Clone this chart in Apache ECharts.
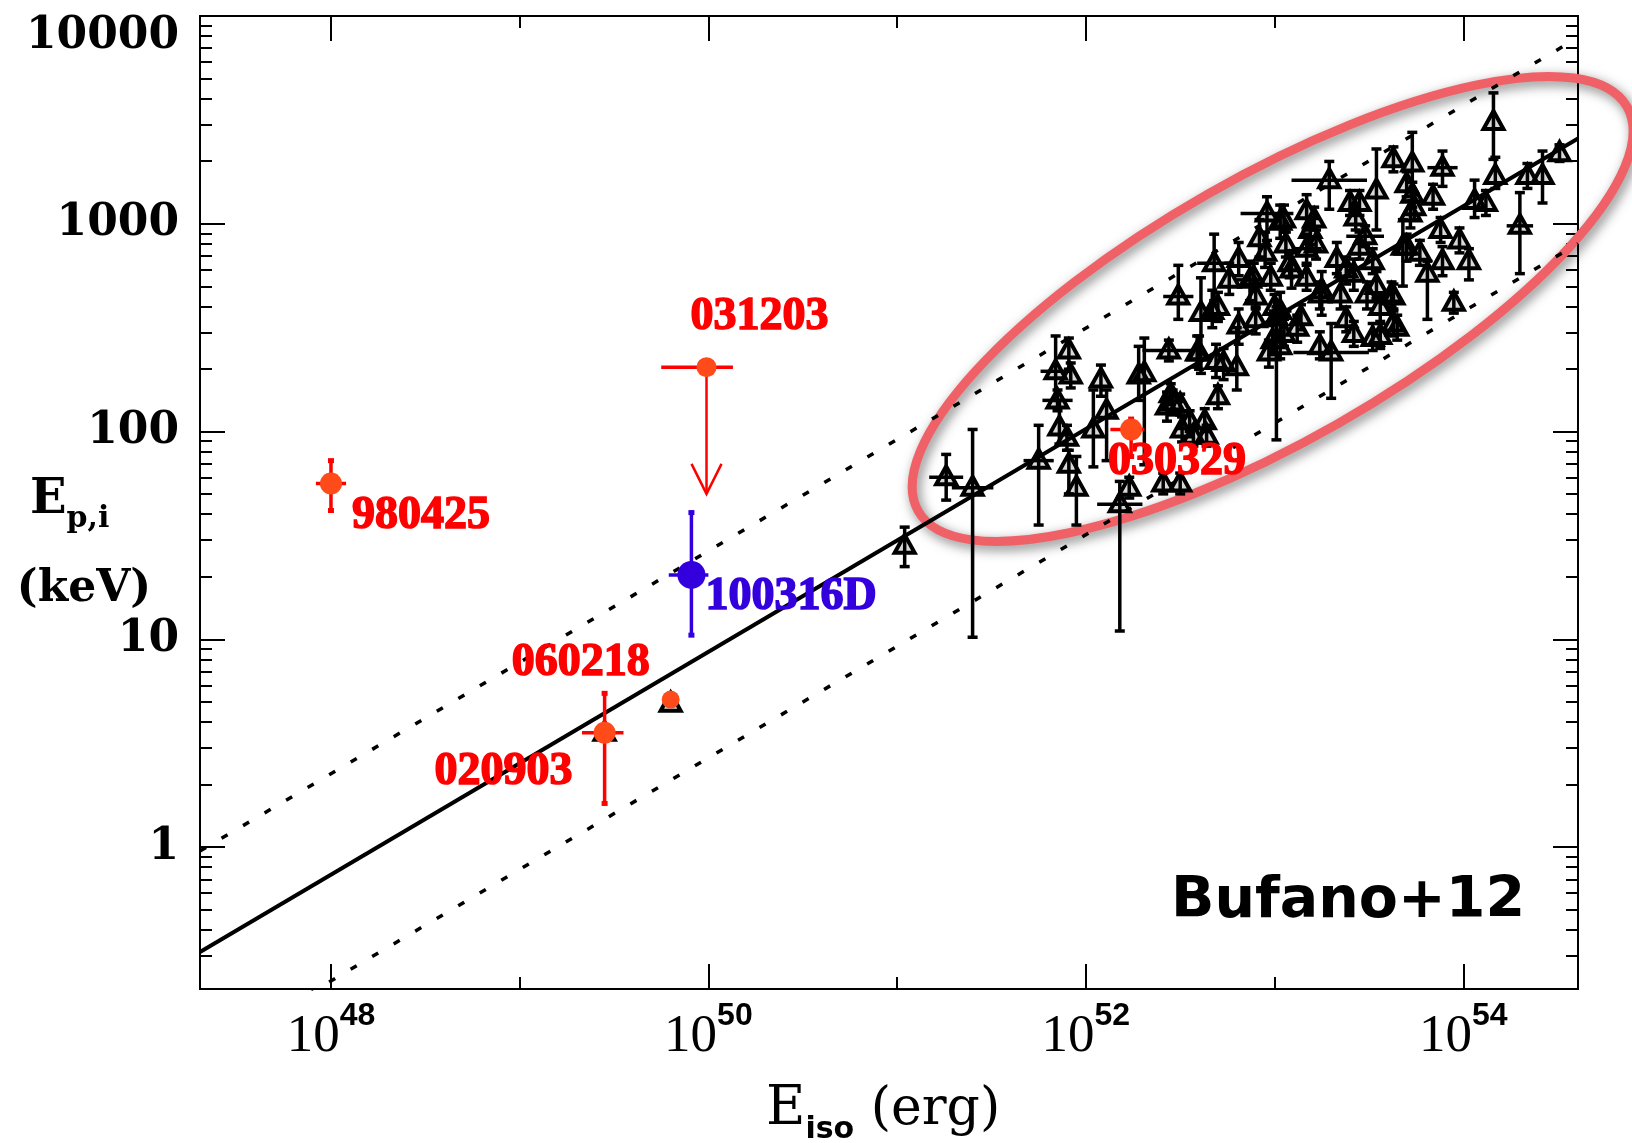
<!DOCTYPE html>
<html>
<head>
<meta charset="utf-8">
<script src="https://cdn.jsdelivr.net/npm/echarts@6/dist/echarts.min.js"></script>
<style>
  html, body { margin: 0; padding: 0; background: #fff; }
  #main { width: 1632px; height: 1143px; }
</style>
</head>
<body>
<div id="main"></div>
<script>
// all values are log10: Eiso in erg, Ep,i in keV

// black sample (triangles)
const grbLogE = [
  51.04, 51.26, 51.40, 51.75, 51.84, 51.85, 51.86, 51.91, 51.92, 51.90, 51.91, 51.95, 52.04,
  52.08, 52.11, 52.18, 52.23, 52.28, 52.31, 52.43, 52.46, 52.51, 52.57, 52.64, 52.41, 52.50,
  52.44, 52.49, 52.45, 52.50, 52.55, 52.63, 52.61, 52.60, 52.68, 52.70, 52.69, 52.76, 52.80,
  52.70, 52.89, 52.90, 52.90, 52.96, 52.98, 53.00, 52.99, 52.97, 53.01, 53.05, 53.06, 53.08,
  53.05, 53.03, 53.17, 53.19, 53.21, 53.22, 53.17, 53.24, 53.14, 53.12, 53.24, 53.30, 53.29,
  53.40, 53.45, 53.43, 53.38, 53.45, 53.52, 53.49, 53.35, 53.38, 53.42, 53.54, 53.54, 53.56,
  53.52, 53.63, 53.70, 53.72, 53.63, 53.65, 53.70,
  54.16, 54.17, 53.73, 53.89, 53.73, 53.74, 53.84, 54.06, 54.12, 54.34, 54.42, 54.51, 54.30,
  53.68, 53.77, 53.88, 53.89, 53.98, 54.03, 53.81, 53.62, 53.63, 53.95, 53.56,
  49.80, 49.45, 53.48,
  52.81, 52.87, 52.95, 53.09, 53.17, 53.25, 53.33, 53.42, 53.03, 52.81, 52.67, 52.59, 52.73,
  52.92, 53.03
];
const grbLogEp = [
  1.45, 1.78, 1.73, 1.86, 2.29, 2.15, 2.02, 2.39, 2.27, 1.97, 1.84, 1.73, 2.01,
  2.25, 2.10, 1.65, 1.73, 2.27, 2.28, 2.12, 2.14, 2.01, 1.98, 1.98, 1.75, 1.75,
  2.39, 2.65, 2.18, 2.13, 2.05, 2.05, 2.57, 2.38, 2.81, 2.60, 2.34, 2.73, 2.31,
  2.17, 2.74, 2.65, 2.54, 3.05, 2.74, 2.60, 2.44, 2.38, 2.55, 3.02, 2.90, 2.81,
  2.47, 2.41, 3.06, 2.97, 3.02, 2.90, 2.74, 2.66, 2.55, 2.50, 2.41, 2.38, 3.21,
  3.10, 3.10, 3.03, 2.78, 2.89, 2.82, 2.66, 2.66, 2.54, 2.47, 3.16, 2.70, 2.60,
  2.45, 3.31, 3.19, 3.05, 2.65, 2.50, 2.89,
  3.49, 3.23, 3.29, 3.27, 3.14, 3.08, 3.13, 3.11, 3.10, 3.23, 3.23, 3.34, 2.99,
  2.89, 2.86, 2.97, 2.82, 2.92, 2.82, 2.76, 2.66, 2.52, 2.62, 2.46,
  0.69, 0.55, 2.94,
  2.83, 2.73, 2.86, 2.78, 2.88, 2.68, 2.83, 2.76, 2.58, 2.51, 2.58, 2.38, 2.33,
  2.93, 3.01
];
// half width of the Eiso error bar (dex)
const grbErrE = [
  0, 0.09, 0.11, 0.08, 0.08, 0.08, 0, 0, 0, 0, 0, 0, 0,
  0, 0, 0.12, 0, 0, 0, 0, 0, 0, 0, 0, 0, 0,
  0.14, 0.08, 0, 0, 0, 0, 0, 0, 0.09, 0, 0, 0, 0,
  0, 0, 0, 0, 0.14, 0, 0, 0, 0, 0, 0, 0, 0,
  0, 0, 0, 0, 0, 0, 0, 0, 0, 0, 0, 0.20, 0.20,
  0, 0, 0, 0, 0, 0, 0, 0, 0, 0, 0, 0, 0,
  0, 0, 0, 0, 0, 0, 0,
  0, 0, 0, 0.08, 0, 0, 0, 0, 0, 0, 0, 0, 0.07,
  0, 0, 0, 0, 0, 0, 0, 0, 0, 0, 0,
  0, 0, 0.10,
  0, 0.07, 0, 0, 0.08, 0, 0, 0, 0.06, 0, 0, 0, 0,
  0, 0
];
// lower / upper length of the Ep,i error bar (dex)
const grbErrEpLo = [
  0.10, 0.11, 0.72, 0.31, 0.14, 0.05, 0.08, 0.09, 0.06, 0.06, 0.14, 0.18, 0.18,
  0.08, 0.24, 0.61, 0.05, 0.12, 0.44, 0.07, 0.06, 0.06, 0.05, 0.05, 0.05, 0.05,
  0.05, 0.11, 0.05, 0.05, 0.05, 0.05, 0.29, 0.08, 0.18, 0.07, 0.08, 0.07, 0.11,
  0.06, 0.06, 0.06, 0.07, 0.13, 0.06, 0.07, 0.07, 0.07, 0.59, 0.06, 0.06, 0.07,
  0.06, 0.06, 0.09, 0.07, 0.05, 0.07, 0.06, 0.07, 0.06, 0.07, 0.06, 0.22, 0.14,
  0.06, 0.06, 0.06, 0.07, 0.06, 0.06, 0.07, 0.07, 0.06, 0.06, 0.19, 0.06, 0.07,
  0.06, 0.06, 0.06, 0.07, 0.06, 0.06, 0.07,
  0.18, 0.06, 0.18, 0.09, 0.06, 0.06, 0.06, 0.08, 0.06, 0.06, 0.13, 0.04, 0.23,
  0.19, 0.06, 0.06, 0.07, 0.06, 0.09, 0.22, 0.06, 0.06, 0.05, 0.06,
  0, 0, 0.05,
  0.08, 0.10, 0.07, 0.09, 0.08, 0.12, 0.07, 0.08, 0.10, 0.09, 0.08, 0.07, 0.08,
  0.09, 0.08
];
const grbErrEpHi = [
  0.09, 0.11, 0.28, 0.17, 0.17, 0.05, 0.13, 0.06, 0.06, 0.06, 0.07, 0.15, 0.19,
  0.07, 0.10, 0.11, 0.05, 0.14, 0.17, 0.07, 0.06, 0.06, 0.05, 0.05, 0.05, 0.05,
  0.05, 0.15, 0.05, 0.05, 0.05, 0.06, 0.17, 0.08, 0.14, 0.07, 0.08, 0.08, 0.19,
  0.05, 0.07, 0.06, 0.06, 0.08, 0.07, 0.06, 0.07, 0.06, 0.05, 0.07, 0.06, 0.06,
  0.07, 0.06, 0.08, 0.06, 0.06, 0.07, 0.07, 0.06, 0.06, 0.06, 0.07, 0.14, 0.09,
  0.06, 0.06, 0.06, 0.06, 0.07, 0.06, 0.06, 0.07, 0.06, 0.06, 0.20, 0.07, 0.06,
  0.07, 0.06, 0.06, 0.06, 0.06, 0.06, 0.06,
  0.14, 0.09, 0.15, 0.08, 0.06, 0.06, 0.06, 0.10, 0.06, 0.06, 0.12, 0.04, 0.16,
  0.13, 0.06, 0.06, 0.07, 0.06, 0.06, 0.06, 0.06, 0.06, 0.05, 0.06,
  0, 0, 0.05,
  0.08, 0.09, 0.10, 0.08, 0.07, 0.09, 0.08, 0.07, 0.09, 0.08, 0.10, 0.08, 0.07,
  0.09, 0.08
];

// highlighted bursts
const specNames   = ['980425', '031203', '100316D', '060218', '020903', '030329'];
const specLogE    = [48.00, 49.99, 49.91, 49.80, 49.45, 52.24];
const specLogEp   = [1.75, 2.31, 1.31, 0.71, 0.55, 2.01];
const specLogELo  = [47.92, 49.75, 49.79, 49.80, 49.33, 52.13];
const specLogEHi  = [48.08, 50.13, 50.00, 49.80, 49.55, 52.31];
const specLogEpLo = [1.62, 1.70, 1.02, 0.71, 0.21, 1.88];
const specLogEpHi = [1.86, 2.31, 1.61, 0.71, 0.74, 2.06];
const specUpperLimit = [false, true, false, false, false, false];

// Ep,i - Eiso correlation and its +-2 sigma band, at the axis ends
const fitLogE    = [47.306, 54.608];
const fitLogEp   = [-0.505, 3.41];
const upperLogEp = [-0.019, 3.896];
const lowerLogEp = [-1.017, 2.904];

// axes
const X_MIN = 47.306, X_MAX = 54.608;
const Y_MIN = -0.683, Y_MAX = 4;
const xMajorTicks = [48, 50, 52, 54];
const xMinorTicks = [49, 51, 53];
const yMajorTicks = [0, 1, 2, 3, 4];
const yTickLabels = ['1', '10', '100', '1000', '10000'];
const yMinorTicks = [];
for (let d = -1; d <= 3; d++) {
  for (let m = 2; m <= 9; m++) {
    const v = d + Math.log10(m);
    if (v > Y_MIN && v < Y_MAX) yMinorTicks.push(v);
  }
}

// label placement / look for the highlighted bursts
const specStyle = {
  '980425':  { color: '#ff0000', fill: '#ff4a1a', r: 11, dx: 21,  dy: 33,  align: 'left' },
  '031203':  { color: '#ff0000', fill: '#ff4a1a', r: 10, dx: 53,  dy: -50, align: 'center' },
  '100316D': { color: '#3300dd', fill: '#3300dd', r: 14, dx: 14,  dy: 22,  align: 'left' },
  '060218':  { color: '#ff0000', fill: '#ff4a1a', r: 9,  dx: -90, dy: -36, align: 'center' },
  '020903':  { color: '#ff0000', fill: '#ff4a1a', r: 11, dx: -101, dy: 39, align: 'center' },
  '030329':  { color: '#ff0000', fill: '#ff4a1a', r: 11, dx: 46,  dy: 33,  align: 'center' }
};

const chart = echarts.init(document.getElementById('main'));

const AXLINE = { color: '#000', width: 2 };
const MAJOR = 25, MINOR = 12;

function xAxisDef(position, ticks, len, labels) {
  return {
    type: 'value', position: position, min: X_MIN, max: X_MAX,
    axisLine: { show: true, onZero: false, lineStyle: AXLINE },
    axisTick: { show: true, inside: true, length: len, customValues: ticks, lineStyle: AXLINE },
    axisLabel: labels ? {
      show: true,
      customValues: xMajorTicks,
      margin: 20,
      formatter: v => '{b|10}{s|' + Math.round(v) + '}',
      rich: {
        b: { fontFamily: 'Liberation Serif', fontSize: 53, lineHeight: 56, color: '#000' },
        s: { fontFamily: 'Liberation Sans', fontWeight: 'bold', fontSize: 32, lineHeight: 34,
             padding: [0, 0, 42, 0], color: '#000' }
      }
    } : { show: false },
    splitLine: { show: false }
  };
}

function yAxisDef(position, ticks, len, labels) {
  return {
    type: 'value', position: position, min: Y_MIN, max: Y_MAX,
    axisLine: { show: true, onZero: false, lineStyle: AXLINE },
    axisTick: { show: true, inside: true, length: len, customValues: ticks, lineStyle: AXLINE },
    axisLabel: labels ? {
      show: true,
      customValues: yMajorTicks,
      margin: 21,
      fontFamily: 'DejaVu Serif', fontWeight: 'bold', fontSize: 44, color: '#000',
      formatter: v => {
        const lab = yTickLabels[yMajorTicks.indexOf(Math.round(v))];
        return Math.round(v) === Y_MAX ? '{top|' + lab + '}' : lab;
      },
      rich: {
        top: { fontFamily: 'DejaVu Serif', fontWeight: 'bold', fontSize: 44, color: '#000',
               padding: [41, 0, 0, 0] }
      }
    } : { show: false },
    splitLine: { show: false }
  };
}

const grbData = grbLogE.map((e, i) =>
  [e, grbLogEp[i], grbErrE[i], grbErrEpLo[i], grbErrEpHi[i]]);

const specData = specLogE.map((e, i) =>
  [e, specLogEp[i], specLogELo[i], specLogEHi[i], specLogEpLo[i], specLogEpHi[i]]);

function renderGrb(params, api) {
  const x = api.value(0), y = api.value(1);
  const c = api.coord([x, y]);
  const lo = api.coord([x, y - api.value(3)]);
  const hi = api.coord([x, y + api.value(4)]);
  const st = { stroke: '#000', lineWidth: 3.5 };
  const kids = [];
  if (api.value(3) > 0 || api.value(4) > 0) {
    kids.push({ type: 'line', shape: { x1: c[0], y1: lo[1], x2: c[0], y2: hi[1] }, style: st });
    kids.push({ type: 'line', shape: { x1: c[0] - 5, y1: lo[1], x2: c[0] + 5, y2: lo[1] }, style: st });
    kids.push({ type: 'line', shape: { x1: c[0] - 5, y1: hi[1], x2: c[0] + 5, y2: hi[1] }, style: st });
  }
  if (api.value(2) > 0) {
    const l = api.coord([x - api.value(2), y]);
    const r = api.coord([x + api.value(2), y]);
    kids.push({ type: 'line', shape: { x1: l[0], y1: c[1], x2: r[0], y2: c[1] }, style: st });
  }
  kids.push({
    type: 'polygon',
    shape: { points: [[c[0], c[1] - 11], [c[0] - 10, c[1] + 7], [c[0] + 10, c[1] + 7]] },
    style: { fill: 'rgba(0,0,0,0.15)', stroke: '#000', lineWidth: 4, lineJoin: 'miter' }
  });
  return { type: 'group', children: kids };
}

function renderSpec(params, api) {
  const i = params.dataIndex;
  const name = specNames[i];
  const s = specStyle[name];
  const x = api.value(0), y = api.value(1);
  const c = api.coord([x, y]);
  const el = api.coord([api.value(2), y]);
  const eh = api.coord([api.value(3), y]);
  const yl = api.coord([x, api.value(4)]);
  const yh = api.coord([x, api.value(5)]);
  const st = { stroke: s.color, lineWidth: 3.5 };
  const kids = [];
  if (eh[0] - el[0] > 1) {
    kids.push({ type: 'line', shape: { x1: el[0], y1: c[1], x2: eh[0], y2: c[1] }, style: st });
  }
  if (specUpperLimit[i]) {
    kids.push({ type: 'line', shape: { x1: c[0], y1: c[1], x2: c[0], y2: yl[1] }, style: { stroke: s.color, lineWidth: 2.5 } });
    kids.push({ type: 'polyline',
      shape: { points: [[c[0] - 15, yl[1] - 30], [c[0], yl[1]], [c[0] + 15, yl[1] - 30]] },
      style: { stroke: s.color, lineWidth: 2.5, fill: 'none' } });
  } else if (yl[1] - yh[1] > 1) {
    kids.push({ type: 'line', shape: { x1: c[0], y1: yl[1], x2: c[0], y2: yh[1] }, style: st });
    kids.push({ type: 'line', shape: { x1: c[0] - 3, y1: yl[1], x2: c[0] + 3, y2: yl[1] }, style: { stroke: s.color, lineWidth: 5 } });
    kids.push({ type: 'line', shape: { x1: c[0] - 3, y1: yh[1], x2: c[0] + 3, y2: yh[1] }, style: { stroke: s.color, lineWidth: 5 } });
  }
  kids.push({ type: 'circle', shape: { cx: c[0], cy: c[1], r: s.r }, style: { fill: s.fill }, z2: 1 });
  kids.push({
    type: 'text', x: c[0] + s.dx, y: c[1] + s.dy, z2: 2,
    style: { text: name, fill: s.color, stroke: s.color, lineWidth: 1.6,
             align: s.align, verticalAlign: 'middle',
             font: 'bold 46px "Liberation Serif"' }
  });
  return { type: 'group', children: kids };
}

function fitLine(ys, dotted) {
  return {
    type: 'line', xAxisIndex: 0, yAxisIndex: 0, silent: true, z: 2,
    data: fitLogE.map((e, i) => [e, ys[i]]),
    showSymbol: false, symbol: 'none', animation: false,
    lineStyle: { color: '#000', width: dotted ? 3.5 : 4, type: dotted ? [7, 18] : 'solid', cap: 'butt' }
  };
}

chart.setOption({
  animation: false,
  backgroundColor: '#fff',
  grid: { left: 200, right: 54, top: 16, bottom: 154, containLabel: false },
  xAxis: [
    xAxisDef('bottom', xMajorTicks, MAJOR, true),
    xAxisDef('bottom', xMinorTicks, MINOR, false),
    xAxisDef('top', xMajorTicks, MAJOR, false),
    xAxisDef('top', xMinorTicks, MINOR, false)
  ],
  yAxis: [
    yAxisDef('left', yMajorTicks, MAJOR, true),
    yAxisDef('left', yMinorTicks, MINOR, false),
    yAxisDef('right', yMajorTicks, MAJOR, false),
    yAxisDef('right', yMinorTicks, MINOR, false)
  ],
  series: [
    fitLine(fitLogEp, false),
    fitLine(upperLogEp, true),
    fitLine(lowerLogEp, true),
    {
      type: 'custom', name: 'sample', xAxisIndex: 0, yAxisIndex: 0, z: 3,
      renderItem: renderGrb, data: grbData, encode: { x: 0, y: 1 }, clip: true, silent: true
    },
    {
      type: 'custom', name: 'special', xAxisIndex: 0, yAxisIndex: 0, z: 5,
      renderItem: renderSpec, data: specData, encode: { x: 0, y: 1 }, clip: false, silent: true
    }
  ]
});

// ring drawn round the main sample, centred in data space
const ringCenter = [52.99, 2.59];
const rc = chart.convertToPixel({ xAxisIndex: 0, yAxisIndex: 0 }, ringCenter);

chart.setOption({
  graphic: [
    {
      type: 'ellipse', z: 1, silent: true,
      x: rc[0], y: rc[1], rotation: 29.7 * Math.PI / 180,
      shape: { cx: 0, cy: 0, rx: 408, ry: 132 },
      style: { fill: 'none', stroke: '#ef6166', lineWidth: 9,
               shadowBlur: 12, shadowColor: 'rgba(0,0,0,0.5)', shadowOffsetX: 3, shadowOffsetY: 4 }
    },
    {
      type: 'text', x: 1171, y: 902, z: 10,
      style: { text: 'Bufano+12', font: 'bold 57px "DejaVu Sans"', fill: '#000', verticalAlign: 'middle' }
    },
    {
      type: 'text', x: 766, y: 1080, z: 10,
      style: {
        text: '{e|E}{s|iso}{r| (erg)}',
        rich: {
          e: { fontFamily: 'DejaVu Serif', fontSize: 54, lineHeight: 60, fill: '#000' },
          s: { fontFamily: 'DejaVu Sans', fontWeight: 'bold', fontSize: 30, lineHeight: 34,
               padding: [40, 0, 0, 0], fill: '#000' },
          r: { fontFamily: 'DejaVu Serif', fontSize: 52, lineHeight: 60, fill: '#000' }
        }
      }
    },
    {
      type: 'text', x: 30, y: 474, z: 10,
      style: {
        text: '{e|E}{s|p,i}',
        rich: {
          e: { fontFamily: 'DejaVu Serif', fontWeight: 'bold', fontSize: 48, lineHeight: 54, fill: '#000' },
          s: { fontFamily: 'DejaVu Serif', fontWeight: 'bold', fontSize: 30, lineHeight: 34,
               padding: [36, 0, 0, 0], fill: '#000' }
        }
      }
    },
    {
      type: 'text', x: 84, y: 590, z: 10,
      style: { text: '(keV)', font: 'bold 44px "DejaVu Serif"', fill: '#000',
               align: 'center', verticalAlign: 'middle' }
    }
  ]
});
</script>
</body>
</html>
